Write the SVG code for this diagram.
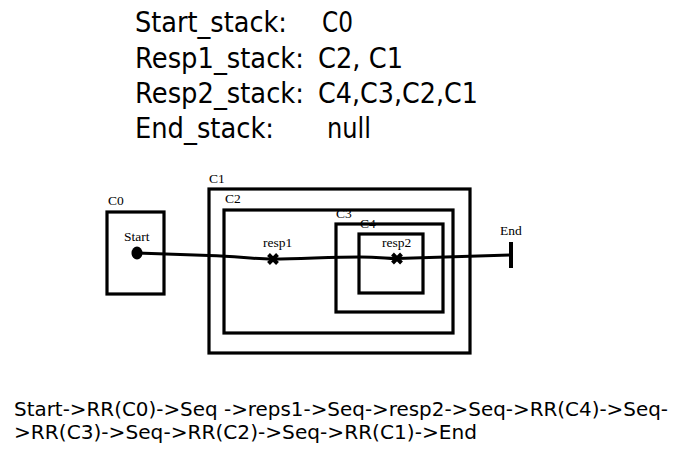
<svg xmlns="http://www.w3.org/2000/svg" width="674" height="450" viewBox="0 0 674 450">
<style>
.box{fill:none;stroke:#000;stroke-width:3.2}
.lbl{font-family:"Liberation Serif","Times New Roman",serif;font-size:13.5px;fill:#000}
.big{font-family:"DejaVu Sans","Verdana",sans-serif;font-size:28px;fill:#000}
.small{font-family:"DejaVu Sans","Verdana",sans-serif;font-size:19px;fill:#000}
.wire{fill:none;stroke:#000;stroke-width:3}
.mark{fill:none;stroke:#000;stroke-width:4}
</style>
<rect width="674" height="450" fill="#fff"/>
<g id="stacks">
<text class="big" x="135" y="32" textLength="152" lengthAdjust="spacingAndGlyphs">Start_stack:</text>
<text class="big" x="322" y="32" textLength="31" lengthAdjust="spacingAndGlyphs">C0</text>
<text class="big" x="135" y="68" textLength="169" lengthAdjust="spacingAndGlyphs">Resp1_stack:</text>
<text class="big" x="318" y="68" textLength="85" lengthAdjust="spacingAndGlyphs">C2, C1</text>
<text class="big" x="135" y="103" textLength="169" lengthAdjust="spacingAndGlyphs">Resp2_stack:</text>
<text class="big" x="318" y="103" textLength="160" lengthAdjust="spacingAndGlyphs">C4,C3,C2,C1</text>
<text class="big" x="135" y="138" textLength="139" lengthAdjust="spacingAndGlyphs">End_stack:</text>
<text class="big" x="327" y="138" textLength="44" lengthAdjust="spacingAndGlyphs">null</text>
</g>
<g id="C0">
<rect class="box" x="107" y="212" width="57" height="82"/>
<text class="lbl" x="108" y="205">C0</text>
</g>
<g id="C1">
<rect class="box" x="209" y="189" width="261" height="164"/>
<text class="lbl" x="209" y="183">C1</text>
</g>
<g id="C2">
<rect class="box" x="224" y="210" width="229" height="123"/>
<text class="lbl" x="225" y="203">C2</text>
</g>
<g id="C3">
<rect class="box" x="336" y="224" width="107" height="88"/>
<text class="lbl" x="336" y="218">C3</text>
</g>
<g id="C4">
<rect class="box" x="359" y="234" width="64" height="59"/>
<text class="lbl" x="360" y="228">C4</text>
</g>
<g id="connectors">
<path class="wire" d="M137,253 L209,255.5 C240,256.5 252,259 273,259 C300,259 330,257 360,257 C380,257 390,259 397,258.5 C420,258 460,256.5 511,255"/>
</g>
<g id="Start">
<ellipse cx="137" cy="253" rx="5.5" ry="6.5" fill="#000"/>
<text class="lbl" x="124" y="241">Start</text>
</g>
<g id="resp1">
<path class="mark" d="M268.5,254.5 L277.5,263.5 M268.5,263.5 L277.5,254.5"/>
<text class="lbl" x="263" y="247">resp1</text>
</g>
<g id="resp2">
<path class="mark" d="M392.5,254 L401.5,263 M392.5,263 L401.5,254"/>
<text class="lbl" x="382" y="247">resp2</text>
</g>
<g id="End">
<line x1="511" y1="242" x2="511" y2="268" stroke="#000" stroke-width="4"/>
<text class="lbl" x="500" y="235">End</text>
</g>
<g id="trace">
<text class="small" x="14" y="416" textLength="654" lengthAdjust="spacingAndGlyphs">Start-&gt;RR(C0)-&gt;Seq -&gt;reps1-&gt;Seq-&gt;resp2-&gt;Seq-&gt;RR(C4)-&gt;Seq-</text>
<text class="small" x="14" y="439" textLength="463" lengthAdjust="spacingAndGlyphs">&gt;RR(C3)-&gt;Seq-&gt;RR(C2)-&gt;Seq-&gt;RR(C1)-&gt;End</text>
</g>
</svg>
